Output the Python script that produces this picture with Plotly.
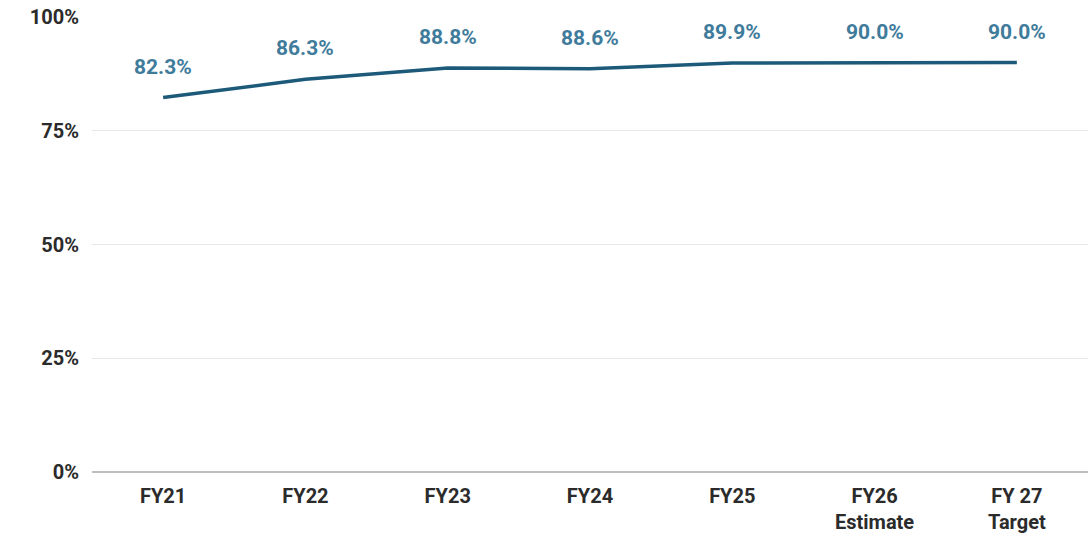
import plotly.graph_objects as go

categories = ["FY21", "FY22", "FY23", "FY24", "FY25", "FY26<br>Estimate", "FY 27<br>Target"]
values = [82.3, 86.3, 88.8, 88.6, 89.9, 90.0, 90.0]
y_ticks = [0, 25, 50, 75, 100]
y_tick_labels = ["0%", "25%", "50%", "75%", "100%"]

line_color = "#1d5a7a"
label_color = "#3f7b9b"
font_family = "Roboto, Arial, sans-serif"
tick_font = dict(family=font_family, size=20, color="#2b2b2b", weight="bold")

fig = go.Figure()
fig.add_trace(go.Scatter(
    x=categories,
    y=values,
    mode="lines",
    line=dict(color=line_color, width=3.5),
    hoverinfo="skip",
))

for cat, val in zip(categories, values):
    fig.add_annotation(
        x=cat, y=val, text=f"{val:.1f}%",
        showarrow=False, yanchor="middle", yshift=31,
        font=dict(family=font_family, size=21, color=label_color, weight="bold"),
    )

fig.update_layout(
    width=1090, height=536,
    margin=dict(l=92, r=2, t=17, b=64),
    paper_bgcolor="white", plot_bgcolor="white",
    showlegend=False,
    font=tick_font,
)
fig.update_xaxes(
    type="category", range=[-0.5, 6.5],
    showgrid=False, showline=False, ticks="",
    ticklabelstandoff=10,
    tickfont=tick_font,
)
fig.update_yaxes(
    range=[0, 100], tickvals=y_ticks, ticktext=y_tick_labels,
    showgrid=True, gridcolor="#e8e8e8", gridwidth=1,
    zeroline=True, zerolinecolor="#bdbdbd", zerolinewidth=2,
    showline=False, ticks="", ticklabelstandoff=12,
    tickfont=tick_font,
)

fig.write_html("out.html")
